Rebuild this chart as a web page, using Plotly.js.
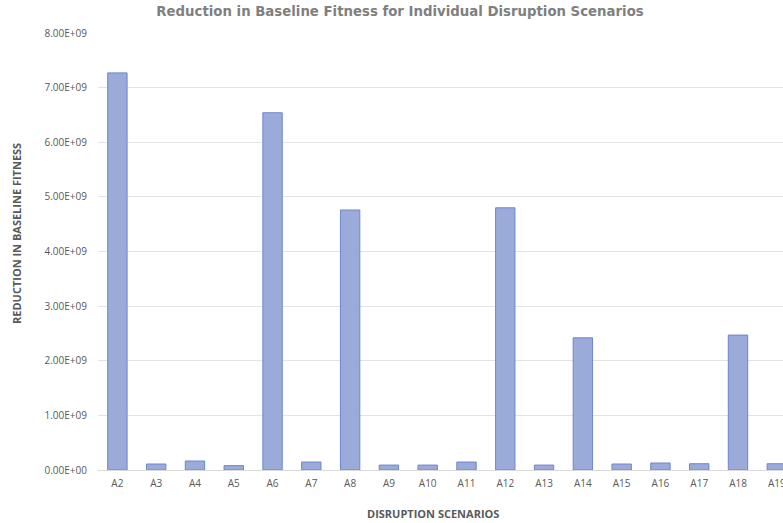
<!DOCTYPE html>
<html>
<head>
<meta charset="utf-8">
<script src="https://cdn.plot.ly/plotly-3.0.1.min.js"></script>
<style>html,body{margin:0;padding:0;background:#fff;overflow:hidden}#chart{width:783px;height:523px}</style>
</head>
<body>
<div id="chart"></div>
<script>
const scenarios = ["A2","A3","A4","A5","A6","A7","A8","A9","A10","A11","A12","A13","A14","A15","A16","A17","A18","A19"];
const reduction = [7.27e9,0.11e9,0.165e9,0.08e9,6.54e9,0.146e9,4.76e9,0.09e9,0.09e9,0.146e9,4.80e9,0.09e9,2.42e9,0.11e9,0.128e9,0.115e9,2.47e9,0.115e9];
const yTickVals = [0,1e9,2e9,3e9,4e9,5e9,6e9,7e9,8e9];
const yTickText = ["0.00E+00","1.00E+09","2.00E+09","3.00E+09","4.00E+09","5.00E+09","6.00E+09","7.00E+09","8.00E+09"];

const W = 783, H = 523;
const trace = {
  type: 'bar',
  x: scenarios,
  y: reduction,
  marker: {color: '#9AAAD9', line: {color: '#6F86CC', width: 1}},
  hoverinfo: 'x+y'
};

const layout = {
  width: W, height: H,
  margin: {l: 98, r: 0, t: 33, b: 53},
  paper_bgcolor: '#ffffff', plot_bgcolor: '#ffffff',
  bargap: 0.5,
  showlegend: false,
  font: {family: 'Open Sans, sans-serif', color: '#595959', size: 10},
  title: {
    text: 'Reduction in Baseline Fitness for Individual Disruption Scenarios',
    font: {family: 'DejaVu Sans, sans-serif', size: 13.3, color: '#7f7f7f', weight: 'bold'},
    x: 400/W, xanchor: 'center', xref: 'container',
    y: 1 - 11/H, yanchor: 'middle', yref: 'container'
  },
  xaxis: {
    type: 'category',
    range: [-0.5, 17.16],
    showgrid: false,
    showline: true, linecolor: '#d9d9d9', linewidth: 1,
    ticks: '', ticklabelstandoff: 4,
    tickfont: {size: 10, color: '#595959'}
  },
  yaxis: {
    range: [0, 8e9],
    tickvals: yTickVals, ticktext: yTickText,
    showgrid: true, gridcolor: '#e3e3e3', gridwidth: 1,
    zeroline: false, showline: false,
    ticks: '', ticklabelstandoff: 10,
    tickfont: {size: 10, color: '#595959'}
  },
  annotations: [
    {
      text: 'DISRUPTION SCENARIOS', showarrow: false,
      xref: 'paper', yref: 'paper',
      x: (433 - 98) / (W - 98), y: -(513 - 470) / (470 - 33),
      xanchor: 'center', yanchor: 'middle',
      font: {family: 'Open Sans, sans-serif', size: 11, color: '#595959', weight: 'bold'}
    },
    {
      text: 'REDUCTION IN BASELINE FITNESS', showarrow: false, textangle: -90,
      xref: 'paper', yref: 'paper',
      x: -(98 - 17) / (W - 98), y: (470 - 234) / (470 - 33),
      xanchor: 'center', yanchor: 'middle',
      font: {family: 'Open Sans, sans-serif', size: 11, color: '#595959', weight: 'bold'}
    }
  ]
};

Plotly.newPlot('chart', [trace], layout, {displayModeBar: false, staticPlot: true});
</script>
</body>
</html>
